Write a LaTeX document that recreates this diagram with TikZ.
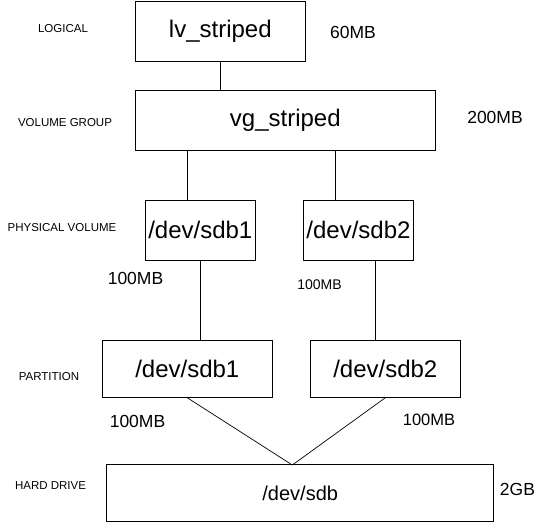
\documentclass[tikz,border=0pt]{standalone}
\usepackage{fontspec}
\setmainfont{Liberation Sans}

\tikzset{
    box/.style={draw, line width=0.9pt, inner sep=0pt, minimum height=60pt,
        font=\fontsize{24}{28}\selectfont},
    layer/.style={inner sep=0pt, font=\fontsize{11.5}{13}\selectfont},
    size/.style={inner sep=0pt, font=\fontsize{17.5}{20}\selectfont},
    link/.style={line width=0.7pt}
}

\begin{document}
\begin{tikzpicture}[x=1pt, y=-1pt]
    \useasboundingbox (0,0) rectangle (559,522);
    % layers
    \node[layer] (tlogical) at (63,29) {LOGICAL};
    \node[layer] (tvg) at (65,123) {VOLUME GROUP};
    \node[layer] (tpv) at (62,228) {PHYSICAL VOLUME};
    \node[layer] (tpart) at (49,377) {PARTITION};
    \node[layer] (thd) at (50.5,486) {HARD DRIVE};
    % boxes
    \node[box, minimum width=170.7pt] (lv) at (220.3,31) {lv\_striped};
    \node[box, minimum width=300.7pt] (vg) at (285.3,120.2) {vg\_striped};
    \node[box, minimum width=110.7pt] (pv1) at (200.3,230.2) {/dev/sdb1};
    \node[box, minimum width=110.4pt] (pv2) at (358.5,230.2) {/dev/sdb2};
    \node[box, minimum width=170pt, minimum height=57pt] (p1) at (187.3,368.8) {/dev/sdb1};
    \node[box, minimum width=150pt, minimum height=57pt] (p2) at (385.3,368.8) {/dev/sdb2};
    \node[box, minimum width=387pt, minimum height=56.3pt,
        font=\fontsize{20}{24}\selectfont] (hd) at (300.2,492.9) {/dev/sdb};
    % sizes
    \node[size] (slv) at (353,32) {60MB};
    \node[size] (svg) at (495,117) {200MB};
    \node[size] (spv1) at (135.5,278) {100MB};
    \node[size, font=\fontsize{14}{16}\selectfont] (spv2) at (319.5,285) {100MB};
    \node[size] (sp1) at (137.5,421) {100MB};
    \node[size, font=\fontsize{16.5}{19}\selectfont] (sp2) at (429,419.5) {100MB};
    \node[size] (shd) at (517.5,489) {2GB};
    % links
    \coordinate (apex) at (292.3,465);
    \draw[link] (lv.south) -- (lv.south |- vg.north);
    \draw[link] ([xshift=-12.6pt]pv1.north) -- ([xshift=-12.6pt]pv1.north |- vg.south);
    \draw[link] ([xshift=-23.2pt]pv2.north) -- ([xshift=-23.2pt]pv2.north |- vg.south);
    \draw[link] (pv1.south) -- (pv1.south |- p1.north);
    \draw[link] ([xshift=17.2pt]pv2.south) -- ([xshift=17.2pt]pv2.south |- p2.north);
    \draw[link] (p1.south) -- (apex) -- (p2.south);
\end{tikzpicture}
\end{document}
